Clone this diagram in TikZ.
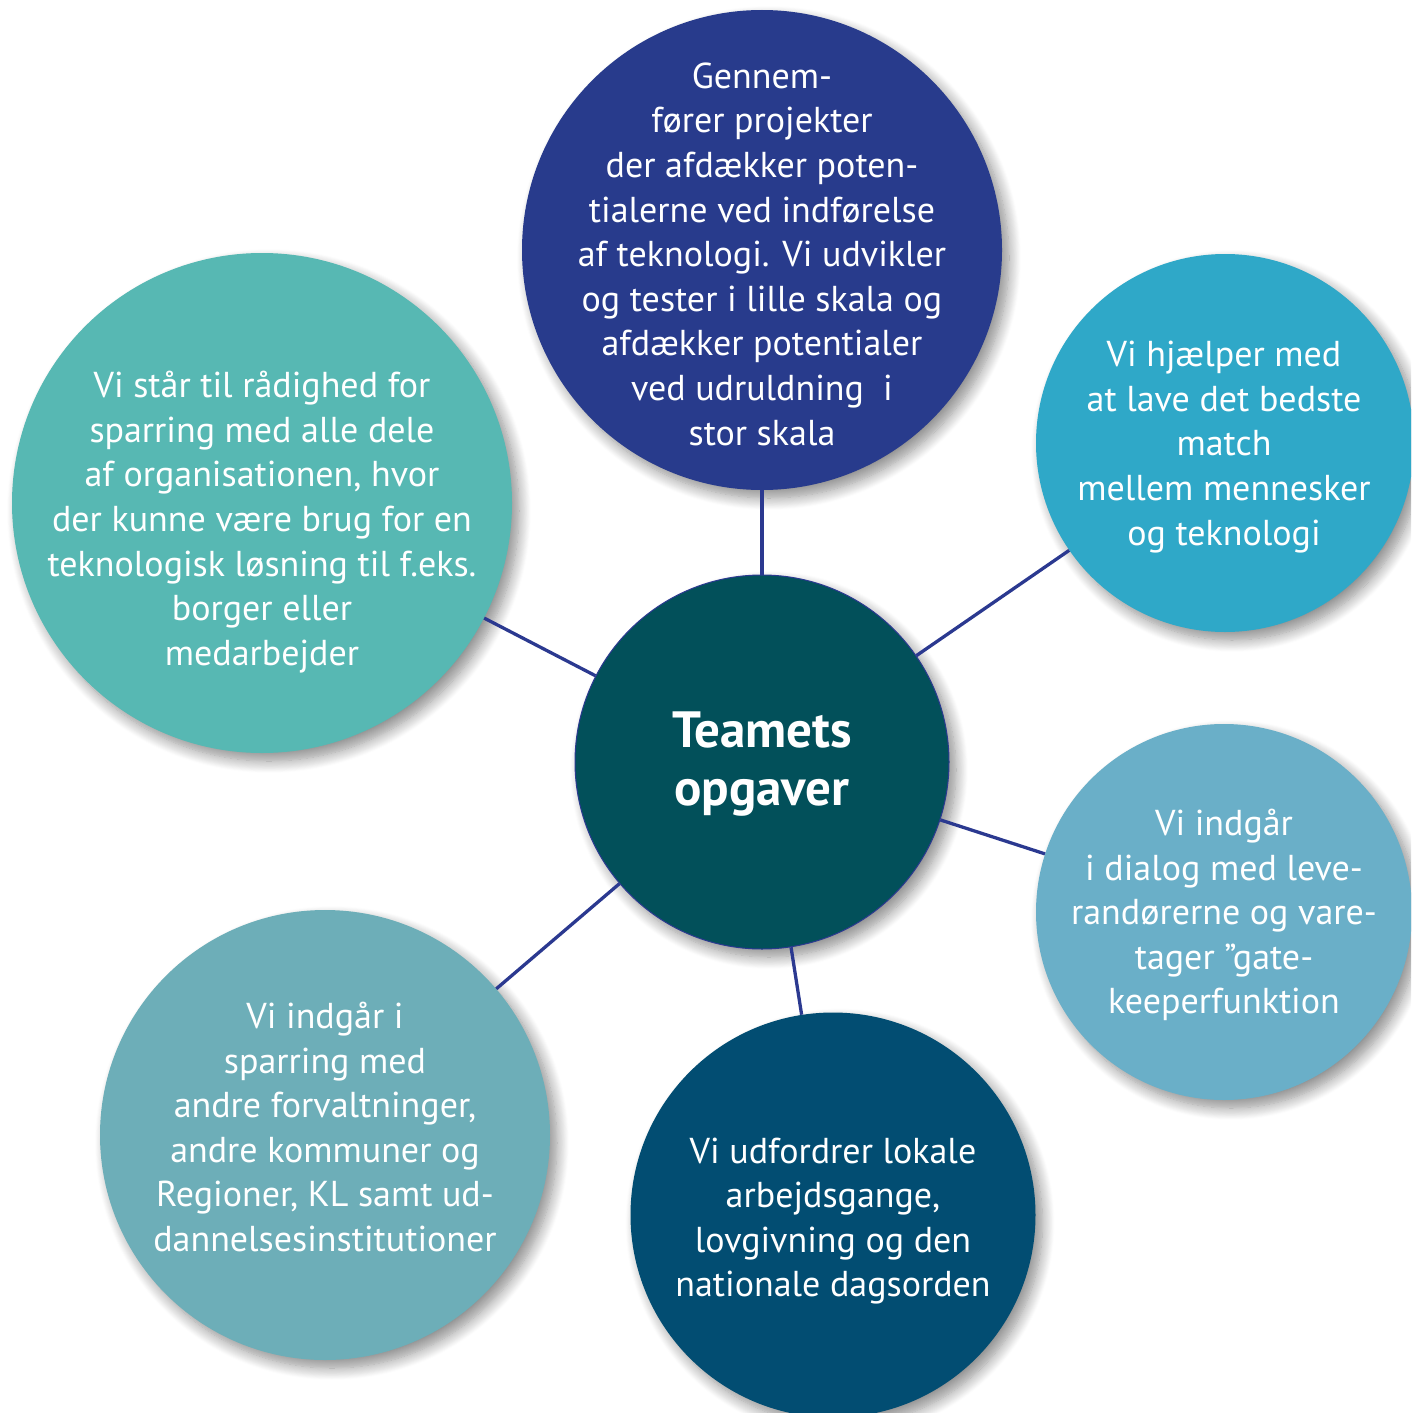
\documentclass[tikz,border=0pt]{standalone}
\usepackage{fontspec}
\setmainfont{PT Sans}
\usetikzlibrary{shadows.blur}
\definecolor{topblue}{HTML}{283B8C}
\definecolor{skyblue}{HTML}{2FA8C8}
\definecolor{seagreen}{HTML}{57B8B3}
\definecolor{coreteal}{HTML}{02505A}
\definecolor{paleblue}{HTML}{6AAFC8}
\definecolor{greyteal}{HTML}{6DAEB8}
\definecolor{deepblue}{HTML}{024D72}
\definecolor{linkblue}{HTML}{2B3990}
\tikzstyle{bubble}=[circle, inner sep=0pt, blur shadow={shadow xshift=7pt, shadow yshift=-8pt, shadow blur radius=12pt, shadow opacity=45, shadow blur steps=14}]
\tikzstyle{bubble text}=[white, align=center, inner sep=0pt, font=\fontsize{36}{44.6}\selectfont]
\tikzstyle{link}=[draw=linkblue, line width=3.3pt]

\begin{document}
\begin{tikzpicture}[x=1pt,y=-1pt]
    \useasboundingbox (0,0) rectangle (1411,1413);
    \clip (0,0) rectangle (1411,1413);

    % Bubbles
    \draw (762,250) node[bubble, fill=topblue, minimum size=480pt] (proj) {};
    \draw (1225,443) node[bubble, fill=skyblue, minimum size=378pt] (match) {};
    \draw (262,503) node[bubble, fill=seagreen, minimum size=500pt] (spar) {};
    \draw (1224,912) node[bubble, fill=paleblue, minimum size=376pt] (dialog) {};
    \draw (325,1135) node[bubble, fill=greyteal, minimum size=450pt] (netw) {};
    \draw (833,1215) node[bubble, fill=deepblue, minimum size=405pt] (chall) {};
    \draw (762,762) node[bubble, fill=coreteal, draw=linkblue, line width=1pt, minimum size=374pt] (team) {};

    % Links
    \draw[link] (team) -- (proj);
    \draw[link] (team) -- (match);
    \draw[link] (team) -- (spar);
    \draw[link] (team) -- (dialog);
    \draw[link] (team) -- (netw);
    \draw[link] (team) -- (chall);

    % Texts
    \draw (762,254) node[bubble text] (proj text) {Gennem-\\fører projekter\\der afdækker poten-\\tialerne ved indførelse\\af teknologi. Vi udvikler\\og tester i lille skala og\\afdækker potentialer\\ved udruldning~ i\\stor skala};
    \draw (1224,447) node[bubble text] (match text) {Vi hjælper med\\at lave det bedste\\match\\mellem mennesker\\og teknologi};
    \draw (262,522) node[bubble text] (spar text) {Vi står til rådighed for\\sparring med alle dele\\af organisationen, hvor\\der kunne være brug for en\\teknologisk løsning til f.eks.\\borger eller\\medarbejder};
    \draw (1224,915) node[bubble text] (dialog text) {Vi indgår\\i dialog med leve-\\randørerne og vare-\\tager ”gate-\\keeperfunktion};
    \draw (325,1127) node[bubble text] (netw text) {Vi indgår i\\sparring med\\andre forvaltninger,\\andre kommuner og\\Regioner, KL samt ud-\\dannelsesinstitutioner};
    \draw (833,1221) node[bubble text] (chall text) {Vi udfordrer lokale\\arbejdsgange,\\lovgivning og den\\nationale dagsorden};
    \draw (762,764) node[bubble text, font=\bfseries\fontsize{51}{58}\selectfont] (team text) {Teamets\\opgaver};

\end{tikzpicture}
\end{document}
